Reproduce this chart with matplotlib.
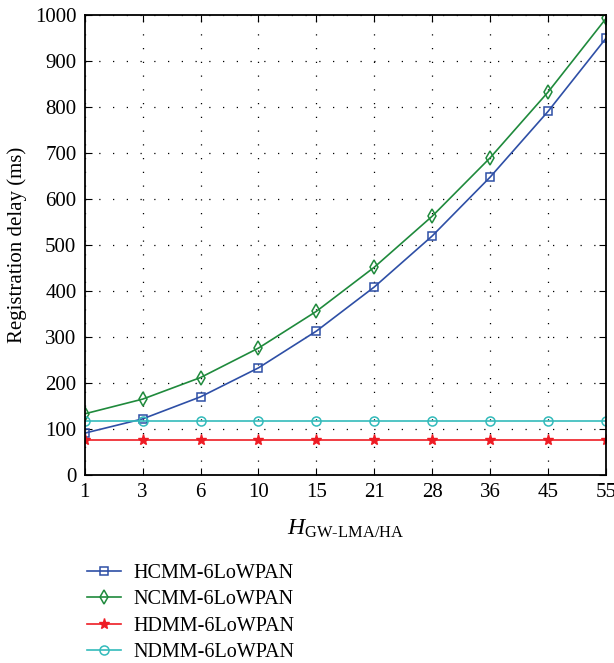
import numpy as np
import matplotlib
matplotlib.use("Agg")
from matplotlib import pyplot as plt

# hop counts (shown as equally spaced categories)
hops = ["1", "3", "6", "10", "15", "21", "28", "36", "45", "55"]

hcmm = [91, 122, 170, 233, 313, 409, 520, 648, 791, 950]
ncmm = [133, 165, 212, 276, 356, 452, 563, 690, 833, 993]
hdmm = [75, 75, 75, 75, 75, 75, 75, 75, 75, 75]
ndmm = [117, 117, 117, 117, 117, 117, 117, 117, 117, 117]

names = ["HCMM-6LoWPAN", "NCMM-6LoWPAN", "HDMM-6LoWPAN", "NDMM-6LoWPAN"]

plt.rcParams["font.family"] = ["Liberation Serif", "DejaVu Serif"]
plt.rcParams["mathtext.fontset"] = "custom"
plt.rcParams["mathtext.rm"] = "Liberation Serif"
plt.rcParams["mathtext.it"] = "Liberation Serif:italic"

fig = plt.figure(figsize=(6.14, 6.63), dpi=100)
ax = fig.add_axes([0.138, 0.2836, 0.849, 0.6934])

x = np.arange(len(hops))
ax.plot(x, hcmm, color="#2e4fa6", marker="s", ms=5.5, mfc="none", mew=1.1, lw=1.2, label=names[0])
ax.plot(x, ncmm, color="#1f8a3c", marker="d", ms=7, mfc="none", mew=1.1, lw=1.2, label=names[1])
ax.plot(x, hdmm, color="#ee1c24", marker="*", ms=8, lw=1.2, label=names[2])
ax.plot(x, ndmm, color="#33bbbb", marker="o", ms=6.5, mfc="none", mew=1.1, lw=1.2, label=names[3])

ax.set_xlim(0, len(hops) - 1)
ax.set_ylim(0, 1000)
ax.set_xticks(x)
ax.set_xticklabels(hops)
ax.set_yticks(np.arange(0, 1001, 100))
ax.tick_params(direction="in", top=True, right=True, labelsize=15, length=5, pad=6)
ax.grid(True, color="black", linestyle=(0, (1, 10)), linewidth=0.9)
for s in ax.spines.values():
    s.set_linewidth(1.3)

ax.set_ylabel("Registration delay (ms)", fontsize=15, labelpad=6)
ax.set_xlabel(r"$\mathit{H}_{\mathrm{GW\text{-}LMA/HA}}$", fontsize=17, labelpad=11)

fig.legend(loc="upper left", bbox_to_anchor=(0.128, 0.162), frameon=False,
           fontsize=14.5, handlelength=1.7, handletextpad=0.6,
           labelspacing=0.37, borderaxespad=0)

fig.savefig("out.png", dpi=100)
